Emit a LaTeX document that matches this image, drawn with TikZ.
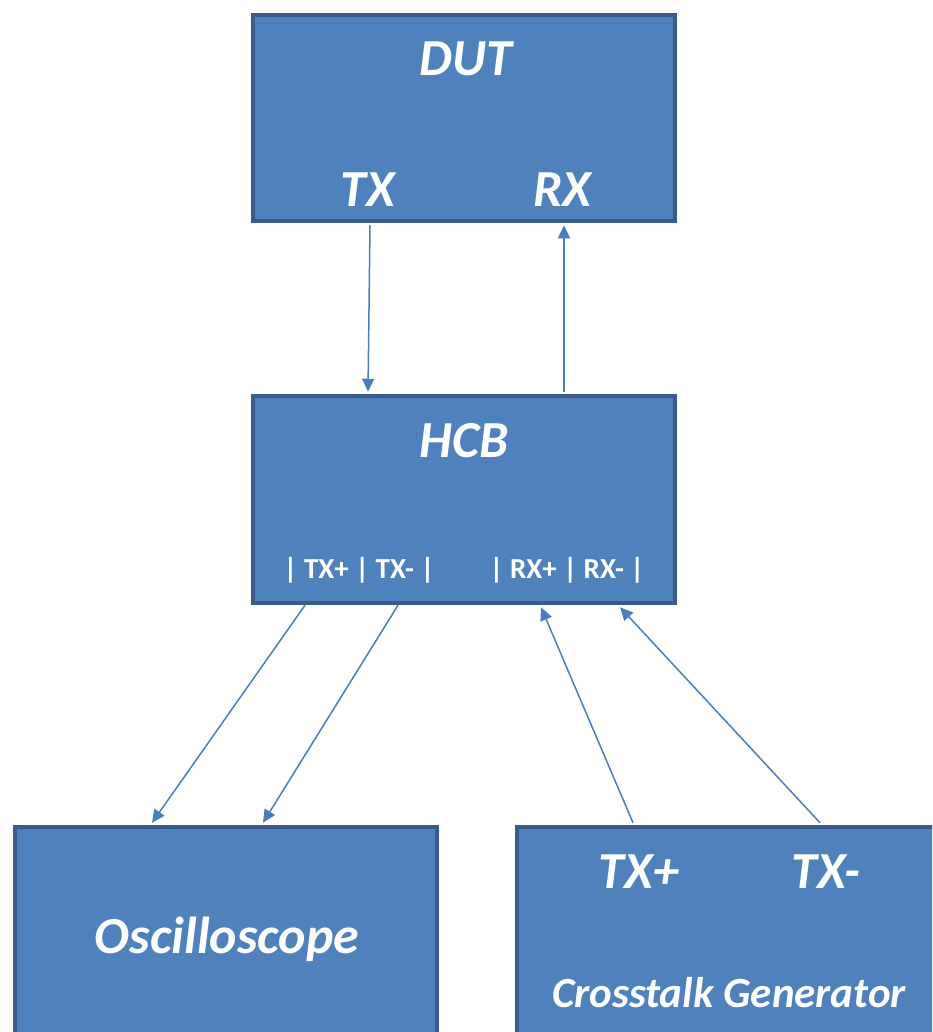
\documentclass[tikz,border=0pt]{standalone}
\usepackage{fontspec}
\newfontfamily\calfont{Carlito}
\usetikzlibrary{arrows.meta,calc}
\definecolor{boxfill}{HTML}{4F81BD}
\definecolor{boxline}{HTML}{385D8A}
\definecolor{arrowcol}{HTML}{4A7EBB}
\begin{document}
\begin{tikzpicture}[x=1pt,y=-1pt,
  blockbox/.style={draw=boxline,fill=boxfill,line width=4.5pt,rectangle,inner sep=0pt},
  biglabel/.style={text=white,anchor=base,inner sep=0pt,font=\calfont\fontsize{52}{52}\selectfont\bfseries\itshape},
  midlabel/.style={text=white,anchor=base,inner sep=0pt,font=\calfont\fontsize{43}{43}\selectfont\bfseries\itshape},
  portlabel/.style={text=white,anchor=base,inner sep=0pt,font=\calfont\fontsize{29}{29}\selectfont\bfseries},
  conn/.style={draw=arrowcol,line width=1.5pt,-{Triangle[length=13pt,width=12pt]}}]
\useasboundingbox (0,0) rectangle (932,1032);
\clip (0,0) rectangle (932,1032);
% boxes
\node[blockbox,minimum width=422pt,minimum height=206pt] (dut) at (464,118) {};
\node[blockbox,minimum width=422pt,minimum height=207pt] (hcb) at (464,499.5) {};
\node[blockbox,minimum width=422pt,minimum height=300pt] (osc) at (226,977) {};
\node[blockbox,minimum width=480pt,minimum height=300pt] (xtg) at (757,977) {};
% labels
\node[biglabel] (dutl) at (466,76) {DUT};
\node[biglabel] (dtx) at (368,207) {TX};
\node[biglabel] (drx) at (562,207) {RX};
\node[biglabel] (hcbl) at (464,457) {HCB};
\node[portlabel] (htx) at (359,578) {| TX+ | TX- |};
\node[portlabel] (hrx) at (567,578) {| RX+ | RX- |};
\node[biglabel] (oscl) at (227,953) {Oscilloscope};
\node[biglabel] (xtp) at (639,888) {TX+};
\node[biglabel] (xtm) at (826,888) {TX-};
\node[midlabel] (xtgl) at (729,1007) {Crosstalk Generator};
% connection points
\coordinate (a1) at (dut.south -| 370,0);
\coordinate (b1) at (hcb.north -| 368,0);
\coordinate (a2) at (hcb.north -| 564,0);
\coordinate (b2) at (dut.south -| 564,0);
\coordinate (a3) at (hcb.south -| 305,0);
\coordinate (b3) at (osc.north -| 152,0);
\coordinate (a4) at (hcb.south -| 398,0);
\coordinate (b4) at (osc.north -| 263,0);
\coordinate (a5) at (xtg.north -| 633,0);
\coordinate (b5) at (hcb.south -| 541,0);
\coordinate (a6) at (xtg.north -| 820,0);
\coordinate (b6) at (hcb.south -| 620,0);
% connectors
\draw[conn] ($(a1)+(0,2)$) -- ($(b1)+(0,-2)$);
\draw[conn] ($(a2)+(0,-2)$) -- ($(b2)+(0,2)$);
\draw[conn] (a3) -- ($(b3)+(0,-2)$);
\draw[conn] (a4) -- ($(b4)+(0,-2)$);
\draw[conn] ($(a5)+(0,-2)$) -- ($(b5)+(0,2)$);
\draw[conn] ($(a6)+(0,-2)$) -- ($(b6)+(0,2)$);
\end{tikzpicture}
\end{document}
